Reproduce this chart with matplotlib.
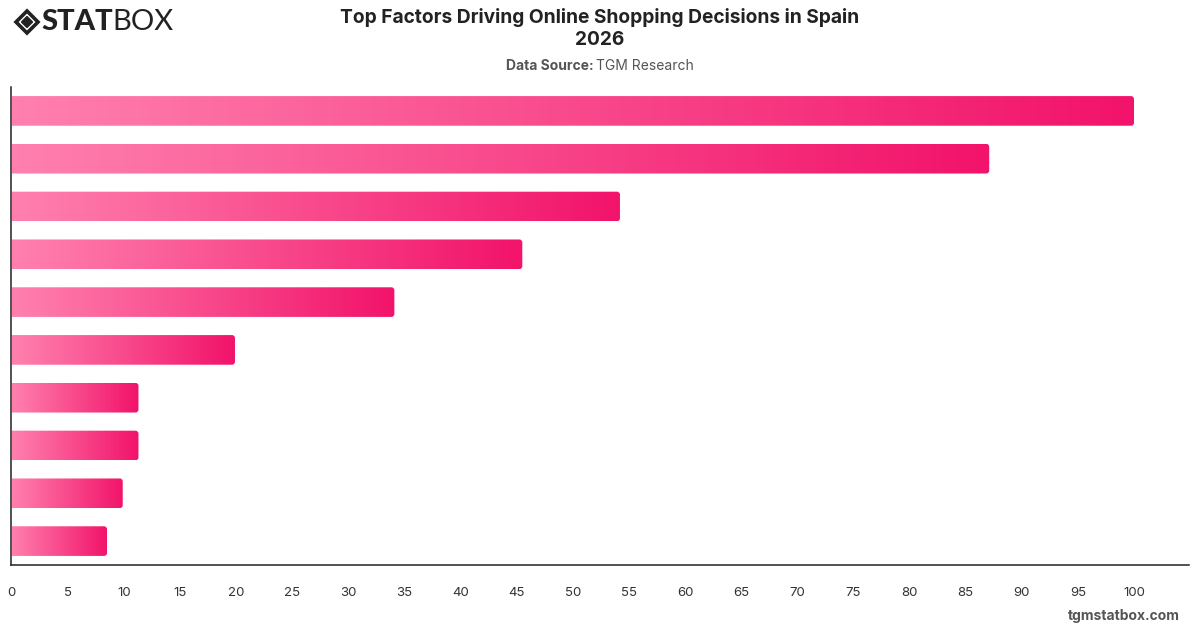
import matplotlib.pyplot as plt
import numpy as np
from matplotlib.patches import FancyBboxPatch, Polygon
from matplotlib.colors import LinearSegmentedColormap

plt.rcParams['font.family'] = ['Inter', 'DejaVu Sans']

# valeurs (de haut en bas), pas de libellés de catégories
values = [100, 87.1, 54.2, 45.5, 34.1, 19.9, 11.3, 11.3, 9.9, 8.5]
xticks = list(range(0, 105, 5))

title = "Top Factors Driving Online Shopping Decisions in Spain\n2026"
source = "TGM Research"

cmap = LinearSegmentedColormap.from_list("pink", ["#ff80ae", "#f2136a"])

fig = plt.figure(figsize=(12, 6.28), dpi=100)
ax = fig.add_axes([10.5 / 1200, 1 - 565 / 628, (1189 - 10.5) / 1200, (565 - 87) / 628])

n = len(values)
ax.set_xlim(-0.1, 104.9)
ax.set_ylim(n - 0.5, -0.5)
h = 0.62
grad = np.linspace(0, 1, 256).reshape(1, -1)

# pixels par unité, pour arrondir les coins
px_x = (1189 - 10.5) / 105.0
px_y = (565 - 87) / n
r = 3 / px_x

for i, v in enumerate(values):
    patch = FancyBboxPatch((-1, i - h / 2), v + 1, h,
                           boxstyle="round,pad=0,rounding_size=%f" % r,
                           mutation_aspect=px_x / px_y,
                           facecolor='none', edgecolor='none')
    ax.add_patch(patch)
    im = ax.imshow(grad, cmap=cmap, aspect='auto', extent=(0, v, i + h / 2, i - h / 2),
                   interpolation='bilinear')
    im.set_clip_path(patch)

ax.set_xticks(xticks)
ax.set_xticklabels([str(t) for t in xticks])
ax.set_yticks([])
ax.tick_params(axis='x', length=0, pad=16, labelsize=9.5, labelcolor='#333333')
for s in ['top', 'right']:
    ax.spines[s].set_visible(False)
for s in ['left', 'bottom']:
    ax.spines[s].set_color('#222222')
    ax.spines[s].set_linewidth(1.1)

# titre et source
fig.text(0.5, 1 - 28.5 / 628, title, ha='center', va='center', fontsize=13.8,
         fontweight='bold', color='#222222', linespacing=1.3)
fig.text(0.5 - 0.003, 1 - 66 / 628, "Data Source: ", ha='right', va='center',
         fontsize=10, fontweight='bold', color='#555555')
fig.text(0.5 - 0.003, 1 - 66 / 628, source, ha='left', va='center',
         fontsize=10, color='#555555')

# logo
cx, cy, s = 27 / 1200, 1 - 22 / 628, 11
def diamond(cx, cy, s):
    return [(cx - s / 1200, cy), (cx, cy + s / 628), (cx + s / 1200, cy), (cx, cy - s / 628)]
fig.add_artist(Polygon(diamond(cx, cy, s), closed=True, fill=False,
                       edgecolor='#222222', linewidth=2.6, transform=fig.transFigure))
fig.add_artist(Polygon(diamond(cx, cy, 5.5), closed=True, facecolor='#222222',
                       edgecolor='#222222', transform=fig.transFigure))
stat = fig.text(41 / 1200, 1 - 22 / 628, "STAT", ha='left', va='center', fontsize=21,
                fontweight=900, family=['Lato', 'DejaVu Sans'], color='#222222')
bb = stat.get_window_extent(renderer=fig.canvas.get_renderer())
fig.text(bb.x1 / 1200, 1 - 22 / 628, "BOX", ha='left', va='center', fontsize=21,
         fontweight='normal', family=['Lato', 'DejaVu Sans'], color='#222222')

fig.text(1180 / 1200, 1 - 616 / 628, "tgmstatbox.com", ha='right', va='center',
         fontsize=10, fontweight='bold', color='#555555')

fig.savefig('out.png', dpi=100)
